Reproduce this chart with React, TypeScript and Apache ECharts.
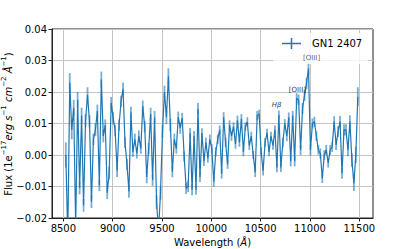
import React, { useEffect, useRef } from "react";
import * as echarts from "echarts";

// Wavelength sampling grid (Angstrom)
const WAVE_START = 8525;
const WAVE_STEP = 20;

// Flux values (1e-17 erg/s/cm2/A)
const FLUX = [
  0.000, -0.026, 0.023, 0.008, 0.015, -0.023, 0.0175, -0.0105, 0.0125, -0.016,
  0.011, 0.019, 0.0107, -0.0148, 0.005, 0.008, 0.014, -0.0097, 0.024, 0.006,
  0.0095, -0.012, -0.0057, 0.0166, 0.0117, 0.0078, -0.005, 0.0095,
  0.017, 0.021, 0.004, -0.003, -0.0116, 0.0135, 0.001, 0.005, 0.0005, 0.006,
  0.002, 0.0155, 0.009, -0.007, 0.002, 0.013, -0.008, 0.012, -0.015, -0.024,
  -0.012, 0.0075, 0.020, 0.012, 0.025, 0.0095, -0.0053, 0.005, 0.002, 0.012,
  0.0085, 0.0118, -0.0005, -0.0106, -0.010, 0.007, -0.011, 0.006, -0.011, 0.0147,
  -0.007, 0.007, -0.002, 0.004, -0.001, 0.005, 0.002, -0.0085, 0.001, 0.005,
  0.008, -0.006, 0.012, 0.004, -0.003, 0.0095, 0.006, 0.009, 0.0035,
  0.011, 0.004, 0.0115, 0.001, 0.009, 0.0105, 0.003, 0.006, 0.000, -0.0055,
  0.0125, 0.013, 0.001, -0.005, 0.004, 0.007, 0.001, 0.006, 0.003, 0.008,
  -0.004, 0.0127, -0.004, 0.004, 0.010, 0.006, 0.012, -0.002, 0.0125, -0.002,
  0.018, 0.0175, 0.0016, 0.0148, 0.019, 0.0227, 0.0275, 0.0016, 0.010, 0.0106,
  0.006, 0.0016, 0.0005, -0.0074, 0.000, 0.0016, -0.0025, 0.0016, 0.0026, 0.0106,
  0.0032, 0.0074, 0.0106, -0.0058, 0.008, 0.008, 0.0016, 0.0106, -0.0016, -0.009,
  0.000, 0.0185,
];

// Flux uncertainties (half-length of the error bars)
const ERR = [
  0.004, 0.004, 0.003, 0.003, 0.0025, 0.003, 0.0025, 0.002, 0.0025, 0.002,
  0.002, 0.0025, 0.002, 0.002, 0.0018, 0.002, 0.002, 0.0018, 0.0025, 0.002,
  0.0018, 0.002, 0.002, 0.0018, 0.002, 0.0018, 0.002, 0.0018,
  0.0018, 0.002, 0.0018, 0.0018, 0.002, 0.0018, 0.0016, 0.0018, 0.0016, 0.0018,
  0.0016, 0.0018, 0.0018, 0.002, 0.0018, 0.002, 0.0018, 0.002, 0.0022, 0.0025,
  0.0022, 0.002, 0.002, 0.0022, 0.0025, 0.002, 0.0018, 0.0018, 0.0016, 0.0018,
  0.0018, 0.0016, 0.0016, 0.0018, 0.0018, 0.0016, 0.0018, 0.0016, 0.0016, 0.0018,
  0.0016, 0.0015, 0.0015, 0.0015, 0.0014, 0.0015, 0.0015, 0.0016, 0.0015, 0.0015,
  0.0014, 0.0015, 0.0016, 0.0015, 0.0014, 0.0015, 0.0015, 0.0014, 0.0015,
  0.0015, 0.0014, 0.0015, 0.0014, 0.0014, 0.0015, 0.0014, 0.0014, 0.0013, 0.0015,
  0.0015, 0.0014, 0.0014, 0.0015, 0.0014, 0.0013, 0.0014, 0.0014, 0.0013, 0.0014,
  0.0015, 0.0014, 0.0014, 0.0015, 0.0014, 0.0016, 0.0015, 0.0016, 0.0015, 0.0016,
  0.0016, 0.0017, 0.0016, 0.0017, 0.0018, 0.0018, 0.002, 0.0018, 0.0016, 0.0016,
  0.0015, 0.0015, 0.0016, 0.0015, 0.0015, 0.0016, 0.0015, 0.0016, 0.0016, 0.0017,
  0.0016, 0.0017, 0.0018, 0.0017, 0.0018, 0.0018, 0.002, 0.002, 0.0022, 0.0024,
  0.0026, 0.003,
];

const X_TICKS = [8500, 9000, 9500, 10000, 10500, 11000, 11500];
const X_MIN = 8385;
const X_MAX = 11639;
const Y_MIN = -0.02;
const Y_MAX = 0.04;
const Y_STEP = 0.01;

const LINE_NAMES = ["Hβ", "[OIII]", "[OIII]"];
const LINE_WAVES = [10662, 10872, 11016];
const LINE_LEVELS = [0.0159, 0.0206, 0.0307];

const LEGEND_NAME = "GN1 2407";
const Y_TITLE =
  "{n|Flux (1e}{s|\u221217}{i|erg s}{s|\u22121}{i| cm}{s|\u22122}{i| Å}{s|\u22121}{n|)}";
const X_TITLE = "{n|Wavelength (}{i|Å}{n|)}";
const BLUE = "#1f77b4";
const FONT = "DejaVu Sans";

export default function App() {
  const ref = useRef<HTMLDivElement>(null);

  useEffect(() => {
    const chart = echarts.init(ref.current!, null, { renderer: "svg" });
    const data = FLUX.map((v, i) => [WAVE_START + WAVE_STEP * i, v, ERR[i]]);

    const fmtY = (v: number) => {
      if (Math.abs(v) < 1e-9) return "0.00";
      return (v < 0 ? "\u2212" : "") + Math.abs(v).toFixed(2);
    };

    chart.setOption({
      animation: false,
      textStyle: { fontFamily: FONT },
      grid: {
        left: 52,
        top: 29,
        right: 42,
        bottom: 31,
        containLabel: false,
        outerBoundsMode: "none",
        show: true,
        borderColor: "#222",
        borderWidth: 1,
        backgroundColor: "transparent",
      },
      xAxis: {
        type: "value",
        min: X_MIN,
        max: X_MAX,
        axisLine: { show: true, onZero: false, lineStyle: { color: "#222", width: 1 } },
        axisTick: {
          show: true,
          inside: false,
          length: 3.5,
          customValues: X_TICKS,
          lineStyle: { color: "#222", width: 1 },
        },
        axisLabel: {
          customValues: X_TICKS,
          formatter: (v: number) => String(v),
          color: "#000",
          fontSize: 10,
          margin: 5,
          fontFamily: FONT,
        },
        splitLine: { show: true, lineStyle: { color: "#c4c4c4", width: 1 } },
        name: X_TITLE,
        nameLocation: "middle",
        nameGap: 17,
        nameTextStyle: {
          rich: {
            n: { fontSize: 10, color: "#000", fontFamily: FONT },
            i: { fontSize: 10, color: "#000", fontFamily: FONT, fontStyle: "italic" },
          },
        },
      },
      yAxis: {
        type: "value",
        min: Y_MIN,
        max: Y_MAX,
        interval: Y_STEP,
        axisLine: { show: true, onZero: false, lineStyle: { color: "#222", width: 1 } },
        axisTick: { show: true, inside: false, length: 3.5, lineStyle: { color: "#222", width: 1 } },
        axisLabel: { formatter: fmtY, color: "#000", fontSize: 10, margin: 5, fontFamily: FONT },
        splitLine: { show: true, lineStyle: { color: "#c4c4c4", width: 1 } },
      },
      series: [
        {
          type: "custom",
          clip: true,
          z: 2,
          data: data,
          encode: { x: 0, y: 1 },
          renderItem: (params: any, api: any) => {
            const x = api.value(0);
            const y = api.value(1);
            const e = api.value(2);
            const p1 = api.coord([x, y - e]);
            const p2 = api.coord([x, y + e]);
            return {
              type: "line",
              shape: { x1: p1[0], y1: p1[1], x2: p2[0], y2: p2[1] },
              style: { stroke: "rgba(31,119,180,0.6)", lineWidth: 1.8 },
            };
          },
        },
        {
          type: "line",
          name: LEGEND_NAME,
          z: 3,
          clip: true,
          data: data.map((d) => [d[0], d[1]]),
          showSymbol: false,
          symbol: "none",
          lineStyle: { color: BLUE, width: 1.2 },
        },
        {
          type: "scatter",
          z: 5,
          symbolSize: 1,
          itemStyle: { color: "transparent" },
          data: LINE_NAMES.map((n, i) => ({
            value: [LINE_WAVES[i], LINE_LEVELS[i]],
            label: {
              show: true,
              position: "inside",
              formatter: n,
              fontSize: 7,
              color: i === 2 ? "#333" : "#000",
              fontFamily: FONT,
              fontStyle: i === 0 ? "italic" : "normal",
            },
          })),
        },
      ],
      graphic: {
        elements: [
          {
            type: "text",
            z: 6,
            x: 8,
            y: 124,
            rotation: Math.PI / 2,
            style: {
              text: Y_TITLE,
              align: "center",
              verticalAlign: "middle",
              fontFamily: FONT,
              fontSize: 10,
              fill: "#000",
              rich: {
                n: { fontSize: 10, fill: "#000", fontFamily: FONT, lineHeight: 16 },
                i: { fontSize: 10, fill: "#000", fontFamily: FONT, fontStyle: "italic", lineHeight: 16 },
                s: { fontSize: 7, fill: "#000", fontFamily: FONT, verticalAlign: "top", lineHeight: 8 },
              },
            },
          },
          {
            type: "rect",
            z: 4,
            silent: true,
            shape: { x: 273, y: 33, width: 95, height: 31 },
            style: { fill: "rgba(255,255,255,0.8)" },
          },
          {
            type: "line",
            z: 6,
            shape: { x1: 282, y1: 43.5, x2: 301, y2: 43.5 },
            style: { stroke: BLUE, lineWidth: 1.5 },
          },
          {
            type: "line",
            z: 6,
            shape: { x1: 291.5, y1: 38, x2: 291.5, y2: 49 },
            style: { stroke: BLUE, lineWidth: 1.5 },
          },
          {
            type: "text",
            z: 6,
            x: 312,
            y: 43.5,
            style: {
              text: LEGEND_NAME,
              fontSize: 10,
              fontFamily: FONT,
              fill: "#000",
              align: "left",
              verticalAlign: "middle",
            },
          },
        ],
      },
    });

    return () => chart.dispose();
  }, []);

  return (
    <div
      ref={ref}
      style={{ position: "fixed", left: 0, top: 0, width: 415, height: 249, background: "#fff" }}
    />
  );
}
